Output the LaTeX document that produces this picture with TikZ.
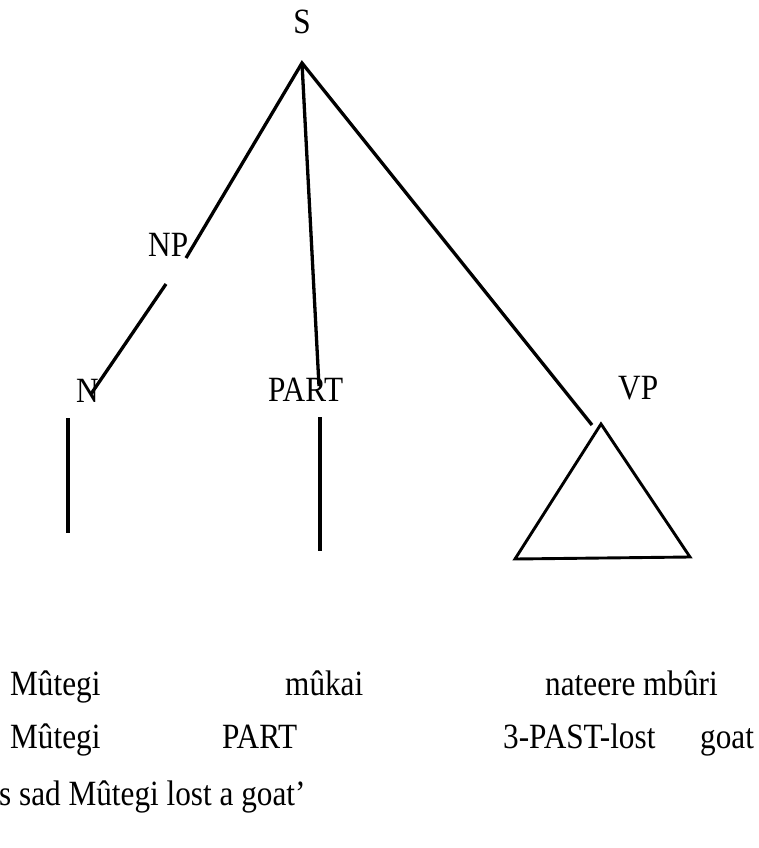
\documentclass[tikz,border=0pt]{standalone}
\usepackage{fontspec}
\setmainfont{Liberation Serif}[FakeStretch=0.88]
\begin{document}
\begin{tikzpicture}[x=1pt,y=-1pt,
  branch/.style={line width=3.3pt, black},
  lbl/.style={inner sep=0pt, font=\fontsize{35.5}{40}\selectfont},
  word/.style={lbl, anchor=base west}]
\path[use as bounding box] (0,0) rectangle (759,848);
% labels
\node[lbl, anchor=base] (S) at (302,34) {S};
\node[word] (NP) at (148,256) {NP};
\node[word] (N) at (76,402) {N};
\node[word] (PART) at (268,401) {PART};
\node[word] (VP) at (618,399) {VP};
% connector end points
\coordinate (apex) at (302,63);
\coordinate (npU) at (186,258);
\coordinate (npL) at (166,284);
\coordinate (nEnd) at (91,394);
\coordinate (partEnd) at (319,386);
\coordinate (vpEnd) at (592,425);
\coordinate (nT) at (68,418);
\coordinate (nB) at (68,533);
\coordinate (pT) at (320,417);
\coordinate (pB) at (320,551);
\coordinate (tA) at (601,424);
\coordinate (tL) at (515,559);
\coordinate (tR) at (690,557);
% branches
\draw[branch, line join=miter] (npU) -- (apex) -- (vpEnd);
\draw[branch] (apex) -- (partEnd);
\draw[branch] (npL) -- (nEnd);
\draw[branch] (nT) -- (nB);
\draw[branch] (pT) -- (pB);
\draw[branch, line width=2.9pt, line join=miter] (tA) -- (tR) -- (tL) -- cycle;
% words
\node[word] (w1) at (10,695) {Mûtegi};
\node[word] (w2) at (285,695) {mûkai};
\node[word] (w3) at (545,695) {nateere mbûri};
\node[word] (g1) at (10,748) {Mûtegi};
\node[word] (g2) at (222,748) {PART};
\node[word] (g3) at (503,748) {3-PAST-lost};
\node[word] (g4) at (700,748) {goat};
\node[word] (tr) at (-1,805) {s sad Mûtegi lost a goat’};
\end{tikzpicture}
\end{document}
